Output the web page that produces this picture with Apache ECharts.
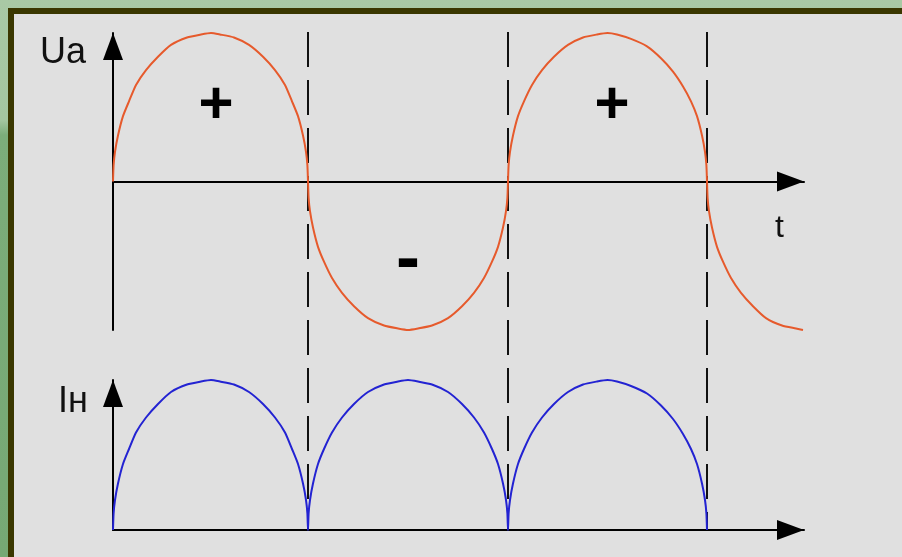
<!DOCTYPE html>
<html>
<head>
<meta charset="utf-8">
<script src="https://cdn.jsdelivr.net/npm/echarts@6/dist/echarts.min.js"></script>
<style>
  html, body { margin: 0; padding: 0; width: 902px; height: 557px; overflow: hidden; }
  body { background: linear-gradient(to bottom, #a9c9a5 0px, #a4c6a0 120px, #7cad7a 135px, #76a874 557px); position: relative; }
  #panel { position: absolute; left: 8px; top: 8px; right: 0; bottom: 0;
           border-top: 6px solid #3a3700; border-left: 6px solid #3a3700; background: #e0e0e0; }
  #chart { position: absolute; left: 0; top: 0; width: 902px; height: 557px; }
</style>
</head>
<body>
<div id="panel"></div>
<div id="chart"></div>
<script>
// Sample times (arbitrary units) for the anode voltage Ua
const timeUa = [
  0, 0.6, 2, 5, 10, 16, 23, 33, 45, 58, 74, 88, 98, 107, 121, 136, 150, 162, 172, 179, 185, 190, 193, 194.4, 195,
  195.6, 197, 200, 205, 211, 219, 229, 241, 255, 271, 285, 295, 305, 319, 335, 349, 361, 371, 379, 385, 390, 393, 394.4, 395,
  395.6, 397, 400, 405, 411, 419, 429, 441, 455, 470, 484, 494.5, 504, 518, 534, 548, 560, 570, 578, 584, 589, 592, 593.4, 594,
  594.6, 596, 599, 604, 610, 618, 628, 640, 653, 669, 683, 690
];
// Anode voltage Ua (normalised)
const voltageUa = [
  0, 0.11, 0.20, 0.31, 0.44, 0.54, 0.65, 0.75, 0.84, 0.92, 0.97, 0.99, 1.0, 0.99, 0.97, 0.92, 0.84, 0.75, 0.65, 0.54, 0.44, 0.31, 0.20, 0.11, 0,
  -0.11, -0.20, -0.31, -0.44, -0.54, -0.65, -0.75, -0.84, -0.92, -0.97, -0.99, -1.0, -0.99, -0.97, -0.92, -0.84, -0.75, -0.65, -0.54, -0.44, -0.31, -0.20, -0.11, 0,
  0.11, 0.20, 0.31, 0.44, 0.54, 0.65, 0.75, 0.84, 0.92, 0.97, 0.99, 1.0, 0.99, 0.96, 0.91, 0.83, 0.74, 0.64, 0.54, 0.44, 0.31, 0.20, 0.11, 0,
  -0.11, -0.20, -0.31, -0.44, -0.54, -0.65, -0.75, -0.84, -0.92, -0.97, -0.99, -1.0
];
// Sample times for the load current Iн
const timeI = [
  0, 0.6, 2, 5, 10, 16, 23, 33, 45, 58, 74, 88, 98, 107, 121, 136, 150, 162, 172, 179, 185, 190, 193, 194.4, 195,
  195.6, 197, 200, 205, 211, 219, 229, 241, 255, 271, 285, 295, 305, 319, 335, 349, 361, 371, 379, 385, 390, 393, 394.4, 395,
  395.6, 397, 400, 405, 411, 419, 429, 441, 455, 470, 484, 494.5, 504, 518, 534, 548, 560, 570, 578, 584, 589, 592, 593.4, 594
];
// Load current Iн (normalised)
const currentI = [
  0, 0.11, 0.20, 0.31, 0.44, 0.54, 0.65, 0.75, 0.84, 0.92, 0.97, 0.99, 1.0, 0.99, 0.97, 0.92, 0.84, 0.75, 0.65, 0.54, 0.44, 0.31, 0.20, 0.11, 0,
  0.11, 0.20, 0.31, 0.44, 0.54, 0.65, 0.75, 0.84, 0.92, 0.97, 0.99, 1.0, 0.99, 0.97, 0.92, 0.84, 0.75, 0.65, 0.54, 0.44, 0.31, 0.20, 0.11, 0,
  0.11, 0.20, 0.31, 0.44, 0.54, 0.65, 0.75, 0.84, 0.92, 0.97, 0.99, 1.0, 0.99, 0.96, 0.91, 0.83, 0.74, 0.64, 0.54, 0.44, 0.31, 0.20, 0.11, 0
];
// Half-period boundaries (dashed guides)
const boundaries = [195, 395, 594];
// Axis and sign labels
const labelUa = 'Ua';
const labelI = 'Iн';
const labelT = 't';
const signs = [
  { text: '+', t: 103 },
  { text: '-', t: 295 },
  { text: '+', t: 499 }
];

const T_MAX = 691;
const FONT = '"Liberation Sans", Arial, sans-serif';

const zip = (a, b) => a.map((v, i) => [v, b[i]]);

const axisLineArrow = {
  show: true,
  onZero: true,
  symbol: ['none', 'triangle'],
  symbolSize: [20, 27],
  symbolOffset: [0, -13.5],
  lineStyle: { color: '#000', width: 2 }
};
const hiddenBits = { axisTick: { show: false }, axisLabel: { show: false }, splitLine: { show: false } };

const chart = echarts.init(document.getElementById('chart'), null, { renderer: 'canvas' });

const guideSeries = boundaries.map(b => ({
  type: 'line',
  xAxisIndex: 2, yAxisIndex: 2,
  data: [[b, 1], [b, 0]],
  symbol: 'none',
  silent: true,
  z: 1,
  lineStyle: { color: '#111', width: 2, type: [35, 13] }
}));

chart.setOption({
  animation: false,
  backgroundColor: 'transparent',
  grid: [
    { left: 113, width: T_MAX, top: 33, height: 297 },
    { left: 113, width: T_MAX, top: 380, height: 150 },
    { left: 113, width: T_MAX, top: 32, height: 498 }
  ],
  xAxis: [
    Object.assign({ type: 'value', gridIndex: 0, min: 0, max: T_MAX, axisLine: axisLineArrow }, hiddenBits),
    Object.assign({ type: 'value', gridIndex: 1, min: 0, max: T_MAX, axisLine: axisLineArrow }, hiddenBits),
    Object.assign({ type: 'value', gridIndex: 2, min: 0, max: T_MAX, show: false }, hiddenBits)
  ],
  yAxis: [
    Object.assign({ type: 'value', gridIndex: 0, min: -1, max: 1, axisLine: axisLineArrow }, hiddenBits),
    Object.assign({ type: 'value', gridIndex: 1, min: 0, max: 1, axisLine: axisLineArrow }, hiddenBits),
    Object.assign({ type: 'value', gridIndex: 2, min: 0, max: 1, show: false }, hiddenBits)
  ],
  series: guideSeries.concat([
    {
      name: labelUa,
      type: 'line',
      xAxisIndex: 0, yAxisIndex: 0,
      data: zip(timeUa, voltageUa),
      symbol: 'none',
      smooth: 0.2,
      z: 3,
      lineStyle: { color: '#e65a2c', width: 2 }
    },
    {
      name: labelI,
      type: 'line',
      xAxisIndex: 1, yAxisIndex: 1,
      data: zip(timeI, currentI),
      symbol: 'none',
      smooth: 0.2,
      z: 3,
      lineStyle: { color: '#2323d2', width: 2 }
    }
  ]),
  graphic: [
    { type: 'text', left: 40, top: 35, style: { text: labelUa, font: '36px ' + FONT, fill: '#111' } },
    { type: 'text', left: 58, top: 384, style: { text: labelI, font: '36px ' + FONT, fill: '#111' } },
    { type: 'text', left: 775, top: 212, style: { text: labelT, font: '32px ' + FONT, fill: '#111' } }
  ]
});

// Sign labels anchored to the time axis of the upper plot
const signGraphics = signs.map(s => {
  const px = chart.convertToPixel({ gridIndex: 0 }, [s.t, 0]);
  const isPlus = s.text === '+';
  return {
    type: 'text',
    x: px[0], y: isPlus ? 106 : 261,
    style: {
      text: s.text,
      font: 'bold ' + (isPlus ? 60 : 72) + 'px ' + FONT,
      fill: '#000',
      align: 'center',
      verticalAlign: 'middle'
    }
  };
});
chart.setOption({ graphic: chart.getOption().graphic[0].elements.concat(signGraphics) });
</script>
</body>
</html>
